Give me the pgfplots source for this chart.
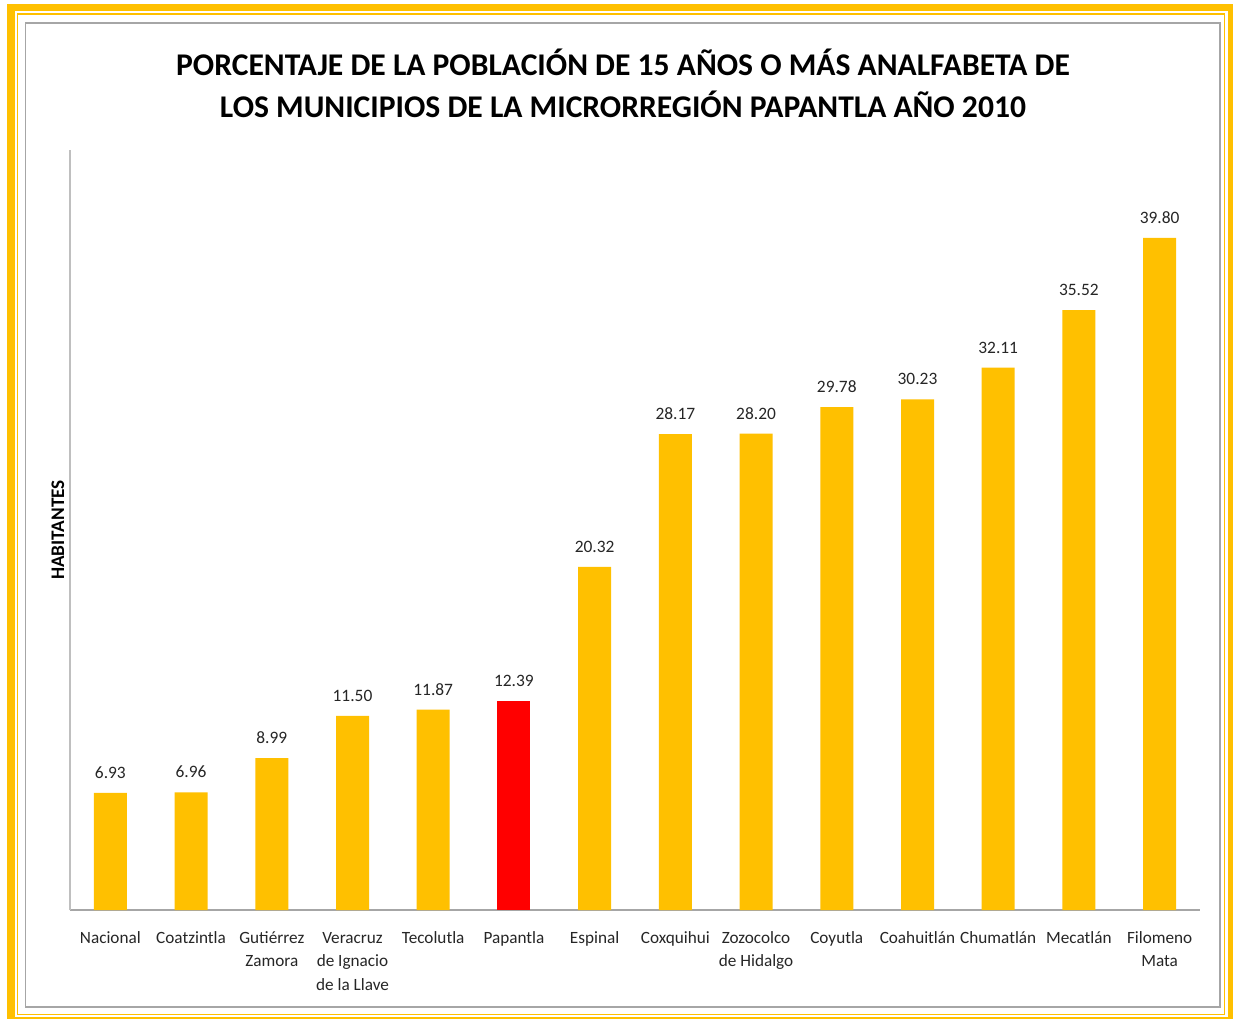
\documentclass[border=0pt]{standalone}
\usepackage{pgfplots}
\pgfplotsset{compat=1.18}
\usepackage{fontspec}
\setmainfont{Carlito}
\definecolor{yel}{HTML}{FFC000}
\definecolor{bred}{HTML}{FF0000}
\definecolor{frgray}{HTML}{A6A6A6}
\definecolor{axgray}{HTML}{BFBFBF}
\definecolor{txt}{HTML}{262626}
\begin{document}
\begin{tikzpicture}[x=0.5pt,y=0.5pt]
\useasboundingbox (0,0) rectangle (1233,1019);
\fill[white] (0,0) rectangle (1233,1019);
\fill[yel] (7,0) rectangle (1233,1015);
\fill[white] (15,2) rectangle (1228,1008);
\draw[yel, line width=0.8pt] (17.5,4.5) rectangle (1224.5,1005);
\draw[frgray, line width=0.8pt] (25.5,12) rectangle (1220,996);
\node[align=center, font=\fontsize{15.8}{21}\selectfont\bfseries, anchor=center] at (623,936)
  {PORCENTAJE DE LA POBLACIÓN DE 15 AÑOS O MÁS ANALFABETA DE\\LOS MUNICIPIOS DE LA MICRORREGIÓN PAPANTLA AÑO 2010};
\begin{axis}[
  at={(35pt,54.5pt)}, anchor=south west,
  scale only axis, width=565pt, height=380pt,
  xmin=-0.5, xmax=13.5, ymin=0, ymax=45,
  ybar, bar width=16.5pt,
  axis x line*=bottom, axis y line*=left,
  x axis line style={-, draw=frgray, line width=1pt},
  y axis line style={-, draw=axgray, line width=1.2pt},
  ytick=\empty,
  xtick={0,...,13}, major tick length=0pt,
  xticklabels={{\strut Nacional},{\strut Coatzintla},{\strut Gutiérrez\\Zamora},{\strut Veracruz\\de Ignacio\\de la Llave},{\strut Tecolutla},{\strut Papantla},{\strut Espinal},{\strut Coxquihui},{\strut Zozocolco\\de Hidalgo},{\strut Coyutla},{\strut Coahuitlán},{\strut Chumatlán},{\strut Mecatlán},{\strut Filomeno\\Mata}},
  xticklabel style={align=center, anchor=north, inner sep=0pt, outer sep=0pt, yshift=-8.3pt, text=txt, font=\fontsize{8.6}{11.75}\selectfont},
  ylabel={HABITANTES},
  every axis y label/.style={at={(rel axis cs:0,0.5)}, xshift=-6pt, rotate=90, anchor=center, font=\fontsize{9.6}{11}\selectfont\bfseries},
  nodes near coords,
  every node near coord/.append style={anchor=base, yshift=7.25pt, text=txt, font=\fontsize{8.7}{10}\selectfont},
  nodes near coords style={/pgf/number format/.cd, fixed, precision=2, zerofill, assume math mode=true},
  clip=false,
]
\addplot[fill=yel, draw=none, bar shift=0pt] coordinates {
  (0,6.93) (1,6.96) (2,8.99) (3,11.50) (4,11.87) (6,20.32) (7,28.17) (8,28.20) (9,29.78) (10,30.23) (11,32.11) (12,35.52) (13,39.80)};
\addplot[fill=bred, draw=none, bar shift=0pt] coordinates {(5,12.39)};
\end{axis}
\end{tikzpicture}
\end{document}
